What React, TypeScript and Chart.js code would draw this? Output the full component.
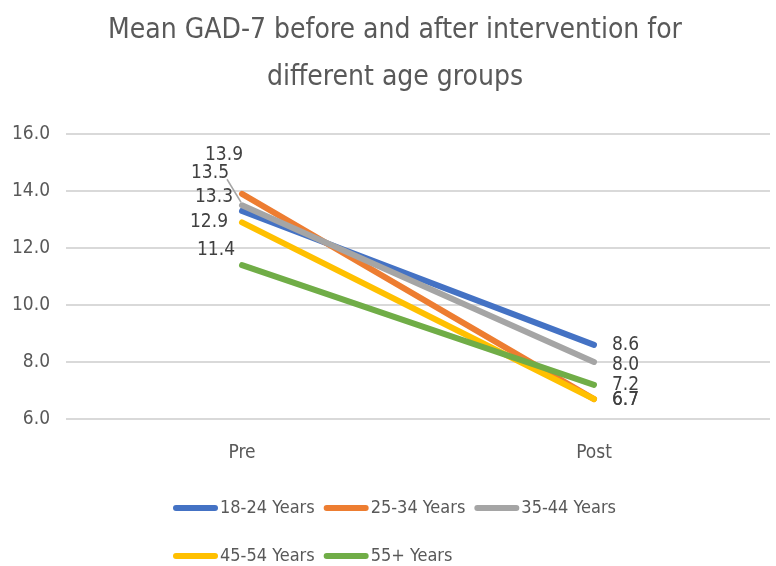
import React, { useEffect, useRef } from 'react';
import { Chart, registerables } from 'chart.js';

Chart.register(...registerables);

// ---- Data ----
const categories = ['Pre', 'Post'];
const seriesNames = ['18-24 Years', '25-34 Years', '35-44 Years', '45-54 Years', '55+ Years'];
const years18to24 = [13.3, 8.6];
const years25to34 = [13.9, 6.7];
const years35to44 = [13.5, 8.0];
const years45to54 = [12.9, 6.7];
const years55plus = [11.4, 7.2];
const yTickValues = [6, 8, 10, 12, 14, 16];
const titleLines = ['Mean GAD-7 before and after intervention for', 'different age groups'];

// ---- Styles ----
const FONT = "'Liberation Sans Narrow', 'DejaVu Sans Condensed', 'Open Sans', sans-serif";
const TEXT = '#595959';
const LABEL_TEXT = '#404040';
const colors = ['#4472C4', '#ED7D31', '#A5A5A5', '#FFC000', '#70AD47'];
// data label offsets [dx, dy] in px, per series, per category
const labelOffsets = [
  [[-9, -14], [18, 0]],
  [[1, -39], [18, 1]],
  [[-13, -32], [18, 3]],
  [[-14, 0], [18, 1]],
  [[-7, -15], [18, 0]],
];
const leaderSeries = 2;

const titlePlugin = {
  id: 'customTitle',
  afterDraw(chart: any) {
    const ctx = chart.ctx;
    ctx.save();
    ctx.font = `28px ${FONT}`;
    ctx.fillStyle = TEXT;
    ctx.textAlign = 'center';
    ctx.textBaseline = 'middle';
    const cx = 395;
    const ys = [31, 78];
    titleLines.forEach((t, i) => ctx.fillText(t, cx, ys[i]));
    ctx.restore();
  },
};

const dataLabelPlugin = {
  id: 'dataLabels',
  afterDatasetsDraw(chart: any) {
    const ctx = chart.ctx;
    ctx.save();
    ctx.font = `19px ${FONT}`;
    ctx.fillStyle = LABEL_TEXT;
    ctx.textBaseline = 'middle';
    chart.data.datasets.forEach((ds: any, i: number) => {
      const meta = chart.getDatasetMeta(i);
      meta.data.forEach((pt: any, j: number) => {
        const [dx, dy] = labelOffsets[i][j];
        const v = ds.data[j] as number;
        const x = pt.x + dx;
        const y = pt.y + dy;
        if (i === leaderSeries && j === 0) {
          ctx.save();
          ctx.strokeStyle = '#A5A5A5';
          ctx.lineWidth = 1.5;
          ctx.beginPath();
          ctx.moveTo(x - 2, y + 6);
          ctx.lineTo(pt.x - 1, pt.y - 3);
          ctx.stroke();
          ctx.restore();
        }
        ctx.textAlign = j === 0 ? 'right' : 'left';
        ctx.fillText(v.toFixed(1), x, y);
      });
    });
    ctx.restore();
  },
};

const legendPlugin = {
  id: 'customLegend',
  afterDraw(chart: any) {
    const ctx = chart.ctx;
    ctx.save();
    ctx.font = `18px ${FONT}`;
    ctx.textBaseline = 'middle';
    ctx.textAlign = 'left';
    const startX = 173;
    const rows = [508, 556];
    const perRow = 3;
    let x = startX;
    chart.data.datasets.forEach((ds: any, i: number) => {
      const row = Math.floor(i / perRow);
      if (i % perRow === 0) x = startX;
      const y = rows[row];
      ctx.strokeStyle = ds.borderColor;
      ctx.lineWidth = 6;
      ctx.lineCap = 'round';
      ctx.beginPath();
      ctx.moveTo(x + 3, y);
      ctx.lineTo(x + 42, y);
      ctx.stroke();
      ctx.fillStyle = TEXT;
      const tx = x + 47;
      ctx.fillText(ds.label, tx, y);
      x = tx + ctx.measureText(ds.label).width + 9;
    });
    ctx.restore();
  },
};

export default function App() {
  const ref = useRef<HTMLCanvasElement | null>(null);
  useEffect(() => {
    if (!ref.current) return;
    const seriesData = [years18to24, years25to34, years35to44, years45to54, years55plus];
    const chart = new Chart(ref.current, {
      type: 'line',
      data: {
        labels: categories,
        datasets: seriesData.map((d, i) => ({
          label: seriesNames[i],
          data: d,
          borderColor: colors[i],
          backgroundColor: colors[i],
          borderWidth: 6,
          borderCapStyle: 'round',
          pointRadius: 0,
          fill: false,
          tension: 0,
          order: seriesData.length - i,
        })),
      },
      options: {
        responsive: false,
        animation: false,
        layout: { padding: { top: 134, left: 0, right: 6, bottom: 97 } },
        plugins: {
          legend: { display: false },
          tooltip: { enabled: false },
          title: { display: false },
        },
        scales: {
          x: {
            offset: true,
            grid: { display: false, drawTicks: false, offset: true },
            border: { display: false },
            ticks: { color: TEXT, padding: 23, font: { family: FONT, size: 19 } },
            afterFit: (s: any) => { s.height = 50; },
          },
          y: {
            min: 6,
            max: 16,
            afterBuildTicks: (s: any) => { s.ticks = yTickValues.map((v) => ({ value: v })); },
            ticks: {
              color: TEXT,
              padding: 16,
              font: { family: FONT, size: 19 },
              callback: (v: any) => Number(v).toFixed(1),
            },
            grid: { color: '#D9D9D9', lineWidth: 2, drawTicks: false },
            border: { display: false },
            afterFit: (s: any) => { s.width = 66; },
          },
        },
      },
      plugins: [titlePlugin, dataLabelPlugin, legendPlugin],
    } as any);
    return () => chart.destroy();
  }, []);
  return (
    <div style={{ position: 'fixed', left: 0, top: 0, width: 776, height: 566, background: '#fff' }}>
      <canvas ref={ref} width={776} height={566} />
    </div>
  );
}
